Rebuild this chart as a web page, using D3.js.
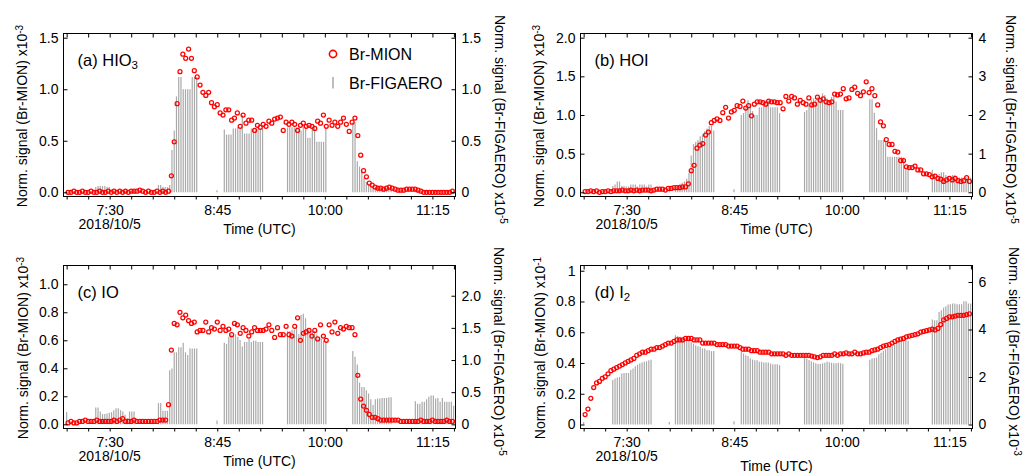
<!DOCTYPE html>
<html>
<head>
<meta charset="utf-8">
<script src="https://cdn.jsdelivr.net/npm/d3@7"></script>
<style>
body { margin: 0; background: #fff; }
svg { display: block; font-family: "Liberation Sans", Arial, Helvetica, sans-serif; }
</style>
</head>
<body>
<div id="chart"></div>
<script>
// time in minutes after 07:00 UTC, 2018/10/5
var mionStart = 1, mionStep = 2;
var figStarts = [20.3, 64.0, 109.9, 154.0, 199.5, 243.1], figStep = 1.57;
var extraTimes = [0, 59.7, 104.8];
var tickLabels = {30: "7:30", 105: "8:45", 180: "10:00", 255: "11:15"};

var hio3Mion = [0.00,0.00,0.01,0.00,0.00,0.01,0.00,0.00,0.01,0.00,0.00,0.01,0.00,0.00,0.01,0.00,0.01,0.00,0.01,0.00,
  0.01,0.00,0.01,0.01,0.01,0.02,0.01,0.00,0.01,0.00,0.00,0.01,0.00,0.01,0.00,0.01,
  0.16,0.49,0.86,1.17,1.34,1.30,1.39,1.30,1.18,1.12,1.04,0.97,0.94,0.97,0.87,0.83,0.85,0.77,0.75,0.80,0.80,0.70,0.72,0.77,
  0.64,0.75,0.67,0.70,0.70,0.60,0.65,0.63,0.66,0.64,0.69,0.67,0.71,0.72,0.73,
  0.60,0.68,0.66,0.68,0.66,0.60,0.65,0.67,0.64,0.65,0.64,0.62,0.69,0.67,0.75,0.64,0.70,0.65,0.68,0.64,0.68,0.72,0.66,0.59,0.68,0.72,
  0.55,0.36,0.21,0.15,0.09,0.07,0.05,0.04,0.04,0.03,0.04,0.05,0.04,0.03,0.02,0.02,0.02,0.03,0.03,0.03,
  0.03,0.02,0.01,0.00,0.00,0.00,0.00,0.00,0.00,0.00,0.00,0.00,0.00,0.01];
var hio3Fig = [
  [0.05,0.06,0.06,0.06,0.06,0.05,0.05,0.02,0.02,0.02,0.02,0.02,0.02,0.02,0.02,0.02,0.02,0.02],
  [0.07,0.07,0.05,0.05,0.05,0.07,0.41,0.60,0.93,1.12,1.12,1.00,1.00,1.00,1.00,1.12,1.12,1.12],
  [0.61,0.56,0.56,0.56,0.62,0.62,0.63,0.63,0.75,0.57,0.57,0.57,0.62,0.62,0.62,0.62,0.62,0.62],
  [0.63,0.63,0.63,0.63,0.63,0.63,0.60,0.63,0.63,0.53,0.53,0.63,0.63,0.49,0.49,0.49,0.49,0.63],
  [0.68,0.68,0.30,0.25,0.20,0.14,0.10,0.08,0.07,0.06,0.05,0.05,0.05,0.05,0.04,0.04,0.04,0.04],
  [0.02,0.02,0.02,0.02,0.02,0.02,0.02,0.02,0.02,0.02,0.02,0.02,0.02,0.02,0.02,0.02,0.02,0.02]];
var hio3Extra = [0.02, 0.02, 0.02];

var hoiMion = [0.01,0.01,0.02,0.01,0.02,0.00,0.01,0.01,0.02,0.01,0.02,0.02,0.02,0.03,0.02,0.02,0.03,0.02,0.03,0.02,
  0.03,0.03,0.03,0.02,0.03,0.04,0.04,0.04,0.03,0.05,0.05,0.06,0.06,0.06,0.07,0.07,
  0.11,0.28,0.35,0.57,0.61,0.63,0.74,0.78,0.90,0.93,0.95,0.93,1.03,1.10,0.96,1.04,1.06,1.12,1.11,1.18,1.09,1.12,0.99,1.14,
  1.17,1.17,1.16,1.14,1.18,1.17,
  1.17,1.16,1.16,1.08,1.24,1.18,1.24,1.22,1.14,1.19,1.16,1.14,1.22,1.13,1.14,1.23,1.19,1.21,1.17,1.16,
  1.17,1.27,1.26,1.27,1.34,1.21,1.22,1.33,1.36,1.28,1.25,1.30,1.43,1.29,1.34,1.25,
  1.13,0.91,0.86,0.68,0.62,0.62,0.53,0.52,0.41,0.41,0.33,0.32,0.32,0.34,0.29,0.29,0.24,0.24,0.23,0.20,
  0.21,0.18,0.17,0.14,0.16,0.18,0.16,0.18,0.15,0.14,0.15,0.19,0.14];
var hoiFig = [
  [0.16,0.20,0.28,0.28,0.17,0.16,0.15,0.15,0.20,0.20,0.20,0.15,0.20,0.20,0.20,0.15,0.20,0.20],
  [0.12,0.18,0.22,0.25,0.28,0.35,0.50,0.95,1.25,1.30,1.35,1.45,1.50,1.58,1.65,1.72,1.72,1.60],
  [2.00,2.05,2.20,2.38,2.30,2.10,2.00,2.00,2.20,2.20,2.35,2.38,2.38,2.20,2.20,2.20,2.20,2.05],
  [2.08,2.13,2.26,2.39,2.43,2.39,2.47,2.39,2.56,2.52,2.43,2.39,2.47,2.47,2.35,2.13,2.13,2.13],
  [2.41,2.41,2.06,1.66,1.35,1.35,1.35,1.30,0.92,0.92,0.92,0.92,0.92,0.92,0.92,0.90,0.58,0.58],
  [0.58,0.48,0.45,0.48,0.52,0.52,0.45,0.40,0.40,0.45,0.45,0.40,0.38,0.38,0.38,0.40,0.40,0.38]];
var hoiExtra = [0.02, 0.05, 0.08];

var ioMion = [0.01,0.02,0.01,0.01,0.02,0.02,0.03,0.02,0.02,0.02,0.03,0.02,0.02,0.02,0.02,0.02,0.03,0.02,0.03,0.04,
  0.02,0.02,0.02,0.03,0.02,0.02,0.02,0.02,0.02,0.02,0.02,0.02,0.03,0.03,0.03,
  0.14,0.53,0.72,0.71,0.80,0.76,0.78,0.74,0.72,0.73,0.66,0.67,0.67,0.73,0.66,0.69,0.68,0.73,0.67,0.70,
  0.67,0.68,0.64,0.72,0.71,0.65,0.69,0.67,0.63,0.66,0.69,0.67,
  0.67,0.67,0.68,0.71,0.67,0.62,0.69,0.64,0.64,0.70,0.64,0.63,0.70,0.76,0.60,0.65,0.66,0.67,0.63,0.67,
  0.61,0.71,0.63,0.60,0.71,0.66,0.73,0.65,0.69,0.68,0.70,0.69,0.69,0.64,
  0.35,0.18,0.13,0.10,0.07,0.05,0.05,0.04,0.03,0.03,0.03,0.03,0.03,0.03,0.03,0.02,0.02,0.02,0.02,0.02,
  0.02,0.02,0.03,0.02,0.02,0.02,0.03,0.02,0.02,0.02,0.02,0.03,0.02,0.02];
var ioFig = [
  [0.26,0.26,0.20,0.16,0.16,0.17,0.18,0.19,0.22,0.25,0.25,0.22,0.20,0.15,0.10,0.20,0.20,0.20],
  [0.33,0.33,0.21,0.21,0.21,0.84,0.87,1.12,1.12,1.20,1.20,1.27,1.12,1.08,1.18,1.18,1.18,1.18],
  [1.27,1.25,1.36,1.40,1.38,1.40,1.36,1.31,1.21,1.28,1.28,1.33,1.28,1.30,1.30,1.28,1.28,1.28],
  [1.45,1.45,1.47,1.47,1.50,1.40,1.70,1.72,1.65,1.50,1.47,1.45,1.45,1.40,1.35,1.33,1.30,1.30],
  [1.14,1.05,0.93,0.65,0.58,0.58,0.53,0.48,0.39,0.30,0.39,0.40,0.40,0.41,0.41,0.41,0.42,0.42],
  [0.36,0.32,0.32,0.35,0.35,0.39,0.43,0.45,0.45,0.40,0.41,0.35,0.41,0.35,0.35,0.35,0.35,0.29]];
var ioExtra = [0.19, 0, 0.06];

var i2Mion = [0.065,0.10,0.17,0.24,0.27,0.28,0.30,0.31,0.33,0.35,0.36,0.37,0.38,0.39,0.40,0.41,0.42,0.43,0.45,0.46,
  0.47,0.47,0.48,0.49,0.49,0.50,0.50,0.51,0.52,0.53,0.53,0.54,0.55,0.55,0.55,0.56,0.56,0.56,0.55,0.55,
  0.55,0.53,0.53,0.53,0.53,0.53,0.52,0.52,0.52,0.52,0.51,0.51,0.51,0.51,0.50,0.49,0.49,0.49,0.48,0.48,
  0.48,0.47,0.47,0.47,0.47,0.46,0.46,0.46,0.46,
  0.46,0.45,0.46,0.45,0.45,0.45,0.45,0.45,0.45,0.45,0.445,0.44,0.435,0.44,0.45,0.45,0.45,0.45,0.46,0.45,
  0.46,0.46,0.465,0.46,0.46,0.47,0.46,0.46,0.465,0.47,0.47,0.48,0.485,0.49,0.50,0.51,0.515,0.52,0.53,0.54,
  0.55,0.555,0.56,0.57,0.575,0.58,0.585,0.59,0.60,0.605,0.61,0.615,0.62,0.615,0.625,0.65,0.68,0.69,0.70,0.70,
  0.705,0.71,0.71,0.71,0.715,0.72];
var i2Fig = [
  [1.87,1.94,1.98,2.00,2.15,2.17,2.17,2.17,2.31,2.36,2.45,2.52,2.57,2.61,2.64,2.66,2.71,2.73],
  [3.76,3.73,3.69,3.62,3.58,3.55,3.55,3.48,3.41,3.34,3.30,3.27,3.20,3.20,3.13,3.13,3.09,3.09],
  [3.06,2.99,2.92,2.88,2.78,2.73,2.71,2.71,2.64,2.64,2.61,2.61,2.61,2.57,2.54,2.54,2.54,2.50],
  [2.85,2.78,2.72,2.66,2.62,2.58,2.55,2.55,2.58,2.60,2.65,2.62,2.60,2.58,2.58,2.60,2.58,2.56],
  [2.73,2.78,2.80,2.82,2.96,3.02,3.10,3.17,3.24,3.27,3.30,3.37,3.44,3.48,3.51,3.51,3.55,3.53],
  [4.42,4.39,4.39,4.74,4.81,4.92,4.98,5.05,5.06,5.09,5.09,5.06,5.06,5.06,5.19,5.19,5.09,5.09]];
var i2Extra = [0.11, 0.11, 0.14];

var f1 = function(d) { return d.toFixed(1); };
var f0 = function(d) { return d === 0 ? "0" : d.toFixed(1); };
var fi = function(d) { return d === 0 ? "0" : String(d); };

var panels = [
  {tag: "(a) HIO", sub: "3", mion: hio3Mion, fig: hio3Fig, extra: hio3Extra,
   left: 63.5, top: 33.5, bottom: 196.5, lDom: [-0.041, 1.541], rDom: [-0.041, 1.541],
   lTicks: [0, 0.5, 1, 1.5], lFmt: f1, rTicks: [0, 0.5, 1, 1.5], rFmt: f0,
   lExp: "-3", rExp: "-5", lTitleX: 27, rTitleX: 495, timeDy: 37, legend: true},
  {tag: "(b) HOI", sub: "", mion: hoiMion, fig: hoiFig, extra: hoiExtra,
   left: 580.5, top: 33.5, bottom: 196.5, lDom: [-0.054, 2.054], rDom: [-0.109, 4.109],
   lTicks: [0, 0.5, 1, 1.5, 2], lFmt: f1, rTicks: [0, 1, 2, 3, 4], rFmt: fi,
   lExp: "-3", rExp: "-5", lTitleX: 544, rTitleX: 1006, timeDy: 37},
  {tag: "(c) IO", sub: "", mion: ioMion, fig: ioFig, extra: ioExtra,
   left: 63.5, top: 265.5, bottom: 428.5, lDom: [-0.030, 1.134], rDom: [-0.065, 2.470],
   lTicks: [0, 0.2, 0.4, 0.6, 0.8, 1], lFmt: f1, rTicks: [0, 0.5, 1, 1.5, 2], rFmt: f0,
   lExp: "-3", rExp: "-5", lTitleX: 28, rTitleX: 494, timeDy: 37},
  {tag: "(d) I", sub: "2", mion: i2Mion, fig: i2Fig, extra: i2Extra,
   left: 580.5, top: 265.5, bottom: 428.5, lDom: [-0.026, 1.034], rDom: [-0.168, 6.695],
   lTicks: [0, 0.2, 0.4, 0.6, 0.8, 1], lFmt: fi, rTicks: [0, 2, 4, 6], rFmt: fi,
   lExp: "-1", rExp: "-3", lTitleX: 545, rTitleX: 1009, timeDy: 42.5}
];

var width = 1025, height = 473, plotW = 392;
var tMin = -2.2, tMax = 271.1;

var svg = d3.select("#chart").append("svg").attr("width", width).attr("height", height);

function styleAxis(g) {
  g.select(".domain").remove();
  g.selectAll(".tick line").attr("stroke", "#000").attr("stroke-width", 1);
  g.selectAll(".tick text").attr("fill", "#000").style("font-size", "14px")
    .style("font-family", "'Liberation Sans', Arial, Helvetica, sans-serif");
}

panels.forEach(function(p) {
  var x = d3.scaleLinear().domain([tMin, tMax]).range([p.left, p.left + plotW]);
  var yL = d3.scaleLinear().domain(p.lDom).range([p.bottom, p.top]);
  var yR = d3.scaleLinear().domain(p.rDom).range([p.bottom, p.top]);
  var right = p.left + plotW;
  var g = svg.append("g");

  var bars = [];
  p.fig.forEach(function(cl, k) {
    cl.forEach(function(v, j) { bars.push({t: figStarts[k] + j * figStep, v: v}); });
  });
  extraTimes.forEach(function(t, k) { bars.push({t: t, v: p.extra[k]}); });

  g.selectAll(".bar").data(bars).enter().append("line").attr("class", "bar")
    .attr("x1", function(d) { return x(d.t); }).attr("x2", function(d) { return x(d.t); })
    .attr("y1", yR(0)).attr("y2", function(d) { return yR(d.v); })
    .attr("stroke", "#a9a9a9").attr("stroke-width", 1.2);

  g.selectAll(".pt").data(p.mion).enter().append("circle").attr("class", "pt")
    .attr("cx", function(d, i) { return x(mionStart + i * mionStep); })
    .attr("cy", function(d) { return yL(d); })
    .attr("r", 2).attr("fill", "none").attr("stroke", "#f00").attr("stroke-width", 1.25);

  // frame + axes
  g.append("rect").attr("x", p.left).attr("y", p.top).attr("width", plotW).attr("height", p.bottom - p.top)
    .attr("fill", "none").attr("stroke", "#000").attr("stroke-width", 1);

  var xt = d3.range(0, 271, 15);
  g.append("g").attr("transform", "translate(0," + p.bottom + ")")
    .call(d3.axisBottom(x).tickValues(xt).tickSizeInner(3).tickSizeOuter(0).tickPadding(5.4)
      .tickFormat(function(d) { return tickLabels[d] || ""; }))
    .call(styleAxis);
  g.append("g").attr("transform", "translate(0," + p.top + ")")
    .call(d3.axisTop(x).tickValues(xt).tickSizeInner(-4).tickSizeOuter(0).tickFormat(""))
    .call(styleAxis);
  g.append("g").attr("transform", "translate(" + p.left + ",0)")
    .call(d3.axisLeft(yL).tickValues(p.lTicks).tickFormat(p.lFmt).tickSizeInner(-4).tickSizeOuter(0).tickPadding(5))
    .call(styleAxis);
  g.append("g").attr("transform", "translate(" + right + ",0)")
    .call(d3.axisRight(yR).tickValues(p.rTicks).tickFormat(p.rFmt).tickSizeInner(-4).tickSizeOuter(0).tickPadding(6))
    .call(styleAxis);

  // date + time title
  g.append("text").attr("x", x(30)).attr("y", p.bottom + 32.5).attr("text-anchor", "middle")
    .style("font-size", "14px").text("2018/10/5");
  g.append("text").attr("x", (p.left + right) / 2).attr("y", p.bottom + p.timeDy).attr("text-anchor", "middle")
    .style("font-size", "14px").text("Time (UTC)");

  // y titles
  var lt = g.append("text").attr("transform", "translate(" + p.lTitleX + "," + ((p.top + p.bottom) / 2 + 1) + ") rotate(-90)")
    .attr("text-anchor", "middle").style("font-size", "14px");
  lt.append("tspan").text("Norm. signal (Br-MION) x10");
  lt.append("tspan").attr("dy", "-0.45em").style("font-size", "10px").text(p.lExp);

  var rt = g.append("text").attr("transform", "translate(" + p.rTitleX + "," + (p.top - 18.5) + ") rotate(90)")
    .attr("text-anchor", "start").style("font-size", "14px");
  rt.append("tspan").text("Norm. signal (Br-FIGAERO) x10");
  rt.append("tspan").attr("dy", "-0.45em").style("font-size", "10px").text(p.rExp);

  // panel tag
  var tg = g.append("text").attr("x", p.left + 14).attr("y", p.top + 32.5).style("font-size", "16.5px");
  tg.append("tspan").text(p.tag);
  if (p.sub) tg.append("tspan").attr("dy", "0.3em").style("font-size", "11.5px").text(p.sub);

  if (p.legend) {
    g.append("circle").attr("cx", 333).attr("cy", 54).attr("r", 3.6)
      .attr("fill", "none").attr("stroke", "#f00").attr("stroke-width", 1.6);
    g.append("text").attr("x", 349).attr("y", 60).style("font-size", "16px").text("Br-MION");
    g.append("line").attr("x1", 333).attr("x2", 333).attr("y1", 77).attr("y2", 88.5)
      .attr("stroke", "#a9a9a9").attr("stroke-width", 1.5);
    g.append("text").attr("x", 349).attr("y", 88.5).style("font-size", "16px").text("Br-FIGAERO");
  }
});
</script>
</body>
</html>
